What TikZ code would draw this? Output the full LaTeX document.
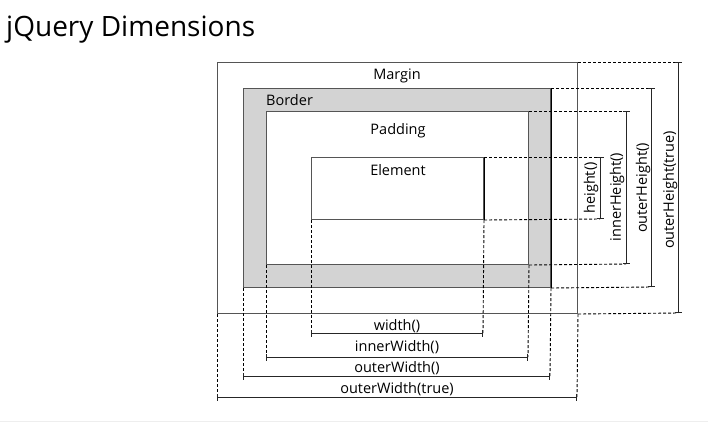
\documentclass[tikz,border=0pt]{standalone}
\usepackage{fontspec}
\setmainfont{Open Sans}
\usetikzlibrary{arrows.meta}
\definecolor{boxline}{HTML}{555555}
\definecolor{borderfill}{HTML}{D3D3D3}
\definecolor{rule}{HTML}{EEEEEE}
\tikzset{
  boxnode/.style={draw=boxline, line width=1pt, inner sep=0pt, anchor=north west},
  guide/.style={draw=black, line width=0.9pt, dash pattern=on 3pt off 2pt},
  dimline/.style={draw=black!85, line width=1pt, {Bar[width=7pt,line width=1pt]}-{Bar[width=7pt,line width=1pt]}},
  lbl/.style={font=\fontsize{14.5}{16}\selectfont, inner sep=0pt},
}
\begin{document}
\begin{tikzpicture}[x=1pt,y=-1pt]
\useasboundingbox (0,0) rectangle (708,424);
\node[anchor=base west, font=\fontsize{28}{32}\selectfont, inner sep=0pt] (title) at (6,36) {jQuery Dimensions};

\node[boxnode, minimum width=360pt, minimum height=251pt] (margin) at (217,62) {};
\node[boxnode, fill=borderfill, minimum width=307pt, minimum height=199pt] (border) at (243,88) {};
\node[boxnode, fill=white, minimum width=262pt, minimum height=153pt] (padding) at (266,111) {};
\node[boxnode, minimum width=172pt, minimum height=62pt] (element) at (311,157) {};

\node[lbl] (lmargin) at (397,76) {Margin};
\node[lbl, anchor=west] (lborder) at (266,100) {Border};
\node[lbl] (lpadding) at (398,131) {Padding};
\node[lbl] (lelement) at (398,170) {Element};

% right-hand guide coordinates
\coordinate (hT) at (600,157); \coordinate (hB) at (600,219);
\coordinate (ihT) at (626,111); \coordinate (ihB) at (626,264);
\coordinate (ohT) at (651,88); \coordinate (ohB) at (651,287);
\coordinate (otT) at (678,62); \coordinate (otB) at (678,313);
% bottom guide coordinates
\coordinate (wL) at (311,333); \coordinate (wR) at (483,333);
\coordinate (iwL) at (266,357); \coordinate (iwR) at (528,357);
\coordinate (owL) at (243,376); \coordinate (owR) at (550,376);
\coordinate (otL) at (217,397); \coordinate (otR) at (577,397);

% horizontal guides
\draw[guide] (element.north east) -- (hT);
\draw[guide] (element.south east) -- (hB);
\draw[guide] (padding.north east) -- (ihT);
\draw[guide] (padding.south east) -- (ihB);
\draw[guide] (border.north east) -- (ohT);
\draw[guide] (border.south east) -- (ohB);
\draw[guide] (margin.north east) -- (otT);
\draw[guide] (margin.south east) -- (otB);
% vertical guides
\draw[guide] (element.south west) -- (wL);
\draw[guide] (element.south east) -- (wR);
\draw[guide] (padding.south west) -- (iwL);
\draw[guide] (padding.south east) -- (iwR);
\draw[guide] (border.south west) -- (owL);
\draw[guide] (border.south east) -- (owR);
\draw[guide] (margin.south west) -- (otL);
\draw[guide] (margin.south east) -- (otR);

% redraw some black edges
\draw[black, line width=1pt] (element.north east) -- (element.south east);
\draw[black, line width=1pt] (border.north east) -- (border.south east);

% dimension lines
\draw[dimline] (hT) -- (hB);
\draw[dimline] (ihT) -- (ihB);
\draw[dimline] (ohT) -- (ohB);
\draw[dimline] (otT) -- (otB);
\draw[dimline] (wL) -- (wR);
\draw[dimline] (iwL) -- (iwR);
\draw[dimline] (owL) -- (owR);
\draw[dimline] (otL) -- (otR);

\node[lbl, rotate=90] (lh) at (591,188) {height()};
\node[lbl, rotate=90] (lih) at (617,197) {innerHeight()};
\node[lbl, rotate=90] (loh) at (643,188) {outerHeight()};
\node[lbl, rotate=90] (lot) at (670,190) {outerHeight(true)};

\node[lbl] (lw) at (397,326) {width()};
\node[lbl] (liw) at (397,347) {innerWidth()};
\node[lbl] (low) at (397,368) {outerWidth()};
\node[lbl] (lowt) at (397,389.5) {outerWidth(true)};

\draw[rule, line width=1pt] (0,421.5) -- (708,421.5);
\end{tikzpicture}
\end{document}
